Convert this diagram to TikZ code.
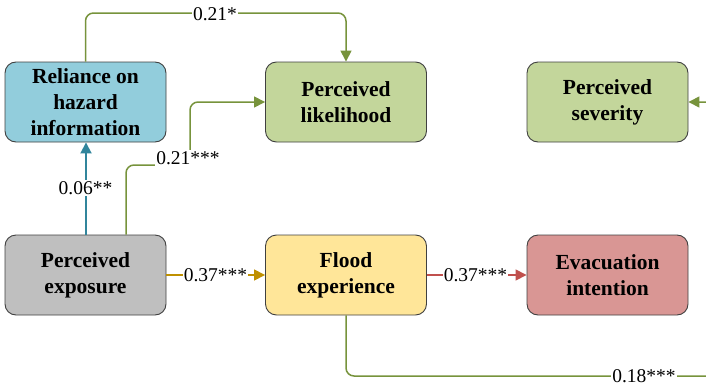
\documentclass[tikz,border=0pt]{standalone}
\usepackage{fontspec}
\setmainfont{LiberationSerif}[Extension=.ttf, UprightFont=*-Regular, BoldFont=*-Bold, ItalicFont=*-Italic, BoldItalicFont=*-BoldItalic]
\usetikzlibrary{arrows.meta}
\definecolor{boxline}{HTML}{404040}
\definecolor{cblue}{HTML}{92CDDC}
\definecolor{cgreen}{HTML}{C3D69B}
\definecolor{cgray}{HTML}{BFBFBF}
\definecolor{cyellow}{HTML}{FFE699}
\definecolor{cred}{HTML}{D99694}
\definecolor{lgreen}{HTML}{77933C}
\definecolor{lteal}{HTML}{31859C}
\definecolor{lgold}{HTML}{BF9000}
\definecolor{lred}{HTML}{C0504D}
\tikzset{
  varbox/.style={draw=boxline, line width=0.9pt, rounded corners=11pt, minimum width=161pt, minimum height=80pt, align=center, inner sep=2pt, font=\bfseries\fontsize{21.5}{26}\selectfont},
  conn/.style={line width=1.5pt, rounded corners=8pt, -{Triangle[length=11pt,width=11pt]}},
  plain/.style={line width=1.5pt, rounded corners=8pt},
  coef/.style={fill=white, inner sep=1pt, font=\fontsize{19.5}{22}\selectfont}
}
\begin{document}
\begin{tikzpicture}[x=1pt,y=-1pt]
\useasboundingbox (0,0) rectangle (706,388);
\clip (0,0) rectangle (706,388);
\node[varbox, fill=cblue] (rel) at (85.5,102) {Reliance on\\hazard\\information};
\node[varbox, fill=cgreen] (lik) at (346,102) {Perceived\\likelihood};
\node[varbox, fill=cgreen] (sev) at (607.5,102) {Perceived\\severity};
\node[varbox, fill=cgray] (exp) at (85.5,275) {Perceived\\exposure};
\node[varbox, fill=cyellow] (fl) at (346,275) {Flood\\experience};
\node[varbox, fill=cred] (ev) at (607.5,275) {Evacuation\\intention};
\coordinate (c1) at (190,165);
\coordinate (rin) at (716,118);
\coordinate (bout) at (720,376);
% reliance -> likelihood
\draw[conn, lgreen] (rel.north) |- (215,13) -| (lik.north);
\node[coef] (l1) at (215,14) {0.21*};
% exposure -> reliance
\draw[conn, lteal, line width=1.8pt] ([xshift=0.5pt]exp.north) -- ([xshift=0.5pt]rel.south);
\node[coef] (l2) at (85.5,188) {0.06**};
% exposure -> likelihood
\draw[conn, lgreen] ([xshift=40.5pt]exp.north) |- (c1) |- (lik.west);
\node[coef] (l3) at (188,158) {0.21***};
% exposure -> flood
\draw[conn, lgold] (exp.east) -- (fl.west);
\node[coef] (l4) at (215.5,275) {0.37***};
% flood -> evacuation
\draw[conn, lred] (fl.east) -- (ev.west);
\node[coef] (l5) at (475.5,275) {0.37***};
% flood -> off right
\draw[plain, lgreen] (fl.south) |- (bout);
\node[coef] (l6) at (644,376.5) {0.18***};
% incoming to severity
\draw[conn, lgreen] (rin) |- (sev.east);
\end{tikzpicture}
\end{document}
